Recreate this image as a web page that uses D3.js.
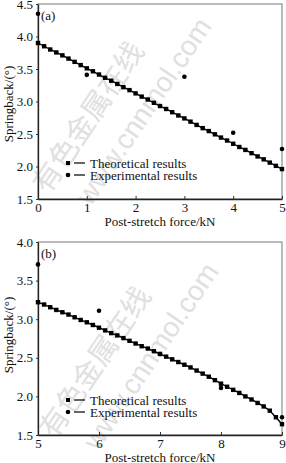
<!DOCTYPE html>
<html>
<head>
<meta charset="utf-8">
<script src="https://cdn.jsdelivr.net/npm/d3@7"></script>
<style>
  body { margin: 0; background: #fff; }
  svg text { font-family: "Liberation Serif", "Times New Roman", "DejaVu Serif", serif; font-size: 13px; fill: #111; }
  .wm { font-family: "Noto Sans CJK SC", sans-serif; fill: #e0e0e0; }
  .wm2 { font-family: "Liberation Sans", Arial, sans-serif; fill: #e0e0e0; }
</style>
</head>
<body>
<svg id="chart" width="286" height="463"></svg>
<script>
  // panel (a): force 0..5 kN
  var forceA = [0, 0.125, 0.25, 0.375, 0.5, 0.625, 0.75, 0.875, 1, 1.125, 1.25, 1.375, 1.5, 1.625, 1.75, 1.875,
    2, 2.125, 2.25, 2.375, 2.5, 2.625, 2.75, 2.875, 3, 3.125, 3.25, 3.375, 3.5, 3.625, 3.75, 3.875,
    4, 4.125, 4.25, 4.375, 4.5, 4.625, 4.75, 4.875, 5];
  var theoryA = [3.90, 3.85, 3.80, 3.755, 3.71, 3.66, 3.61, 3.56, 3.51, 3.465, 3.415, 3.365, 3.32, 3.27, 3.22, 3.175,
    3.125, 3.075, 3.03, 2.98, 2.93, 2.885, 2.835, 2.785, 2.74, 2.69, 2.64, 2.59, 2.545, 2.495, 2.445, 2.40,
    2.35, 2.30, 2.255, 2.205, 2.155, 2.11, 2.06, 2.01, 1.96];
  var expForceA = [0, 1, 3, 4, 5];
  var expA = [4.35, 3.41, 3.38, 2.52, 2.27];

  // panel (b): force 5..9 kN
  var forceB = [5, 5.1, 5.2, 5.3, 5.4, 5.5, 5.6, 5.7, 5.8, 5.9, 6, 6.1, 6.2, 6.3, 6.4, 6.5, 6.6, 6.7, 6.8, 6.9,
    7, 7.1, 7.2, 7.3, 7.4, 7.5, 7.6, 7.7, 7.8, 7.9, 8, 8.1, 8.2, 8.3, 8.4, 8.5, 8.6, 8.7, 8.8, 8.9, 9];
  var theoryB = [3.22, 3.19, 3.155, 3.12, 3.09, 3.06, 3.025, 2.99, 2.96, 2.925, 2.89, 2.855, 2.82, 2.79, 2.755, 2.72,
    2.685, 2.65, 2.62, 2.585, 2.55, 2.515, 2.48, 2.445, 2.41, 2.375, 2.335, 2.295, 2.255, 2.21, 2.165,
    2.125, 2.085, 2.045, 2.00, 1.96, 1.915, 1.87, 1.815, 1.73, 1.64];
  var expForceB = [5, 6, 7, 8, 9];
  var expB = [3.71, 3.11, 2.55, 2.11, 1.73];

  var ticksXA = [0, 1, 2, 3, 4, 5];
  var ticksXB = [5, 6, 7, 8, 9];
  var ticksYA = [1.5, 2.0, 2.5, 3.0, 3.5, 4.0, 4.5];
  var ticksYB = [1.5, 2.0, 2.5, 3.0, 3.5, 4.0];
  var legendLabels = ["Theoretical results", "Experimental results"];

  var svg = d3.select('#chart');

  var drawPanel = function(opts) {
    var g = svg.append('g');
    var x = d3.scaleLinear().domain(opts.xDomain).range([38, 282]);
    var y = d3.scaleLinear().domain(opts.yDomain).range([opts.bottom, opts.top]);

    // watermark
    var wm = g.append('g').attr('transform', 'translate(' + opts.wm[0] + ',' + opts.wm[1] + ') rotate(-56)');
    wm.append('text').attr('class', 'wm').style('font-size', '29px').attr('x', 0).attr('y', 0).text('有色金属在线');
    wm.append('text').attr('class', 'wm2').style('font-size', '28px').attr('x', 14).attr('y', 42).text('www.cnnmol.com');

    // frame
    g.append('rect').attr('x', 38).attr('y', opts.top).attr('width', 244).attr('height', opts.bottom - opts.top)
      .attr('fill', 'none').attr('stroke', '#777').attr('stroke-width', 1);

    var ax = g.append('g').attr('transform', 'translate(0,' + opts.bottom + ')')
      .call(d3.axisBottom(x).tickValues(opts.xTicks).tickSizeInner(-3).tickSizeOuter(0).tickPadding(4).tickFormat(d3.format('d')));
    var ay = g.append('g').attr('transform', 'translate(38,0)')
      .call(d3.axisLeft(y).tickValues(opts.yTicks).tickSizeInner(2).tickSizeOuter(0).tickPadding(3).tickFormat(d3.format('.1f')));
    [ax, ay].forEach(function(a) {
      a.attr('font-family', null).attr('font-size', null);
      a.select('.domain').attr('stroke', '#222').attr('stroke-width', 1.3);
      a.selectAll('.tick line').attr('stroke', '#333');
    });

    g.append('text').attr('x', 160).attr('y', opts.bottom + opts.titleDy).attr('text-anchor', 'middle').text('Post-stretch force/kN');
    g.append('text').attr('transform', 'translate(13,' + opts.ylabelY + ') rotate(-90)')
      .attr('text-anchor', 'middle').text('Springback/(°)');
    g.append('text').attr('x', 41).attr('y', opts.top + 16).text(opts.label);

    // theoretical curve
    var line = d3.line().x(function(d, i) { return x(opts.xs[i]); }).y(function(d) { return y(d); });
    g.append('path').datum(opts.ys).attr('d', line).attr('fill', 'none').attr('stroke', '#000').attr('stroke-width', 1.4);
    g.selectAll('.sq').data(opts.ys).enter().append('rect').attr('class', 'sq')
      .attr('x', function(d, i) { return x(opts.xs[i]) - 2.2; })
      .attr('y', function(d) { return y(d) - 2.2; })
      .attr('width', 4.4).attr('height', 4.4).attr('fill', '#000');

    // experimental points
    g.selectAll('.dot').data(opts.es).enter().append('circle').attr('class', 'dot')
      .attr('cx', function(d, i) { return x(opts.exs[i]); })
      .attr('cy', function(d) { return y(d); })
      .attr('r', 2.3).attr('fill', '#000');

    // legend
    var lg = g.selectAll('.lg').data(legendLabels).enter().append('g')
      .attr('transform', function(d, i) { return 'translate(68,' + (opts.legendY + i * 12) + ')'; });
    lg.filter(function(d, i) { return i === 0; }).append('rect')
      .attr('x', -2).attr('y', -2).attr('width', 4).attr('height', 4).attr('fill', '#000');
    lg.filter(function(d, i) { return i === 1; }).append('circle').attr('r', 2.3).attr('fill', '#000');
    lg.append('line').attr('x1', 6).attr('x2', 17).attr('stroke', '#000').attr('stroke-width', 1.2);
    lg.append('text').attr('x', 22).attr('y', 4.5).text(String);
  };

  drawPanel({
    xDomain: [0, 5], yDomain: [1.5, 4.5], top: 4, bottom: 199,
    xTicks: ticksXA, yTicks: ticksYA, xs: forceA, ys: theoryA, exs: expForceA, es: expA,
    label: '(a)', legendY: 163, ylabelY: 104, wm: [48, 195], titleDy: 27
  });
  drawPanel({
    xDomain: [5, 9], yDomain: [1.5, 4.0], top: 242, bottom: 435,
    xTicks: ticksXB, yTicks: ticksYB, xs: forceB, ys: theoryB, exs: expForceB, es: expB,
    label: '(b)', legendY: 400, ylabelY: 335, wm: [55, 440], titleDy: 26.5
  });
</script>
</body>
</html>
